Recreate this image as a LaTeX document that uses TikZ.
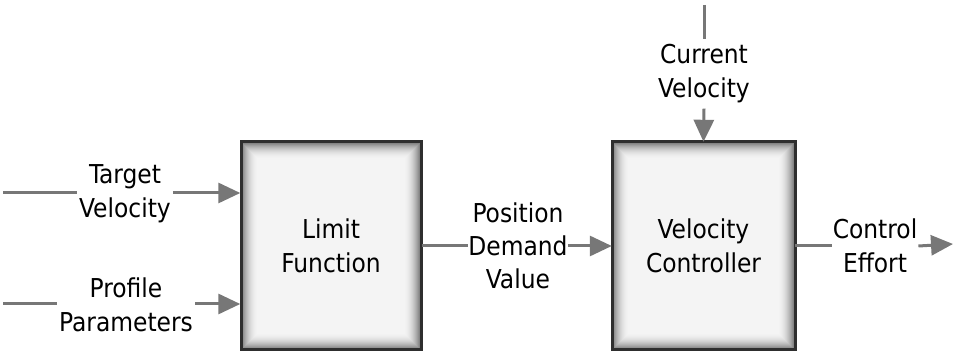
\documentclass[tikz,border=0pt]{standalone}
\usepackage{fontspec}
\setmainfont{DejaVu Sans Condensed}
\usetikzlibrary{arrows.meta,calc}
\definecolor{wire}{HTML}{777777}
\definecolor{boxfill}{HTML}{F4F4F4}
\definecolor{boxedge}{HTML}{2E2E2E}
\tikzset{
  wire/.style={draw=wire, line width=3pt},
  arrowed/.style={wire, -{Triangle[length=22pt,width=20pt]}},
  lbl/.style={align=center, font=\fontsize{26}{34}\selectfont, inner sep=2pt},
  block/.style={minimum width=181pt, minimum height=208pt, align=center,
    font=\fontsize{26}{34}\selectfont, inner sep=0pt},
}
% soft inner glow inside a block, drawn before its border
\newcommand{\glowbox}[4]{%
  \fill[boxfill] (#1,#2) rectangle (#3,#4);
  \foreach \i in {0,...,15}{
    \pgfmathsetmacro{\shade}{46*(1-\i/16)^2}
    \draw[black!\shade!boxfill, line width=1.2pt]
      ($(#1,#2)+(\i+1.5,\i+1.5)$) rectangle ($(#3,#4)+(-\i-1.5,-\i-1.5)$);
  }
  \draw[boxedge, line width=3pt] (#1,#2) rectangle (#3,#4);
}
\begin{document}
\begin{tikzpicture}[x=1pt, y=-1pt]
  \useasboundingbox (0,0) rectangle (953,352);

  % the two processing blocks
  \glowbox{241}{142}{421}{350}
  \glowbox{612}{142}{795}{350}
  \node[block] (limit) at (331,246) {Limit\\Function};
  \node[block, minimum width=183pt] (vctrl) at (703.5,246) {Velocity\\Controller};

  % signal labels
  \node[lbl] (tv) at (125,194) {Target\\Velocity};
  \node[lbl] (pp) at (126,305) {Profile\\Parameters};
  \node[lbl, inner sep=0pt, font=\fontsize{26}{33}\selectfont] (pdv) at (518,246) {Position\\Demand\\Value};
  \node[lbl, inner sep=5pt] (cv) at (704,74) {Current\\Velocity};
  \node[lbl, inner sep=1pt] (ce) at (875,246) {Control\\Effort};

  % free ends of the signals
  \coordinate (tvs) at (3,193);
  \coordinate (pps) at (3,304);
  \coordinate (cvs) at (704,5);
  \coordinate (ceo) at (953,244);

  % connectors
  \draw[wire] (tvs) -- (tvs -| tv.west);
  \draw[arrowed] (tvs -| tv.east) -- (tvs -| limit.west);
  \draw[wire] (pps) -- (pps -| pp.west);
  \draw[arrowed] (pps -| pp.east) -- (pps -| limit.west);
  \draw[wire] (limit.east) -- (pdv.west);
  \draw[arrowed] (pdv.east) -- (vctrl.west);
  \draw[wire] (cvs) -- (cv.north);
  \draw[arrowed] (cv.south) -- (vctrl.north);
  \draw[wire] (vctrl.east) -- (ce.west);
  \draw[arrowed] (ce.east) -- (ceo);
\end{tikzpicture}
\end{document}
